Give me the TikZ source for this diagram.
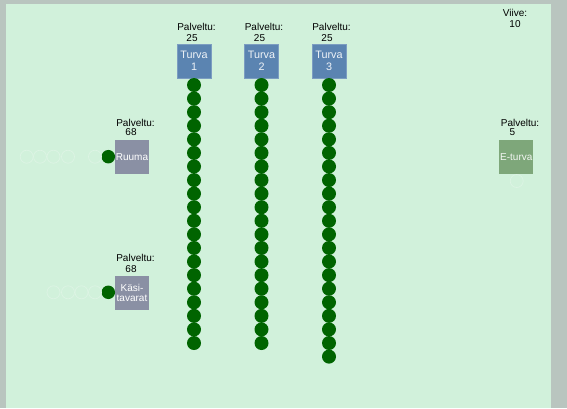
\documentclass[tikz,border=0pt]{standalone}
\usepackage{fontspec}
\setmainfont{Liberation Sans}
\definecolor{bggreen}{HTML}{D1F1DB}
\definecolor{frame}{HTML}{B9C5BF}
\definecolor{boxgrey}{HTML}{8A90A4}
\definecolor{boxblue}{HTML}{5B84B1}
\definecolor{boxgreen}{HTML}{7EA77A}
\definecolor{dotgreen}{HTML}{006400}
\definecolor{ghost}{HTML}{DDF4E4}
\begin{document}
\begin{tikzpicture}[x=1pt,y=-1pt,
  lbl/.style={font=\fontsize{10}{11}\selectfont, text=black, inner sep=0pt},
  stationbox/.style={minimum width=34pt, minimum height=34pt, inner sep=0pt,
     font=\fontsize{10}{11}\selectfont, align=center},
  greybox/.style={stationbox, fill=boxgrey, text=white},
  bluebox/.style={stationbox, fill=boxblue, draw=boxblue!80!white, line width=0.6pt,
     text=white!90!boxblue, font=\fontsize{10.8}{12.5}\selectfont},
  greenbox/.style={stationbox, fill=boxgreen, text=white!90!boxgreen},
  dot/.style={circle, fill=dotgreen, minimum size=14pt, inner sep=0pt},
  ghostdot/.style={circle, draw=ghost, line width=0.7pt, minimum size=13pt, inner sep=0pt}]
\useasboundingbox (0,0) rectangle (567,408);
\fill[frame] (0,0) rectangle (567,408);
\fill[bggreen] (6,4) rectangle (550.5,408);

% security lanes
\foreach \k/\xx/\n in {1/194/20, 2/261.5/20, 3/329/21}{
  \node[lbl] (pl\k) at (\xx+2.5,26.7) {Palveltu:};
  \node[lbl] (pn\k) at (\xx-2,37.7) {25};
  \node[bluebox] (turva\k) at (\xx,61) {Turva\\\k};
  \foreach \i in {1,...,\n}{
    \node[dot] (c\k-\i) at (\xx,{85+(\i-1)*13.58}) {};
  }
}

% Ruuma
\node[lbl] (plr) at (135.5,122.7) {Palveltu:};
\node[lbl] (pnr) at (131,132.5) {68};
\node[greybox] (ruuma) at (132,156.7) {Ruuma};
\node[dot, minimum size=13.5pt] (rd) at (108.3,156.7) {};
\foreach \xx [count=\j] in {26.7,40,53.5,68,95}{
  \node[ghostdot] (rg\j) at (\xx,156.7) {};
}

% Kasitavarat
\node[lbl] (plk) at (135.5,258.3) {Palveltu:};
\node[lbl] (pnk) at (131,269) {68};
\node[greybox, font=\fontsize{10}{10}\selectfont] (kasi) at (132,292.5) {Käsi-\\tavarat};
\node[dot, minimum size=13.5pt] (kd) at (108.3,292.3) {};
\foreach \xx [count=\j] in {53.5,68,81.5,95}{
  \node[ghostdot] (kg\j) at (\xx,292.3) {};
}

% E-turva
\node[lbl] (ple) at (520,123) {Palveltu:};
\node[lbl] (pne) at (512.3,132.5) {5};
\node[greenbox] (eturva) at (516.3,157) {E-turva};
\node[ghostdot] (eg) at (516.7,181) {};

% Viive
\node[lbl] (viive) at (515,13.3) {Viive:};
\node[lbl] (viiven) at (515,24.3) {10};
\end{tikzpicture}
\end{document}
